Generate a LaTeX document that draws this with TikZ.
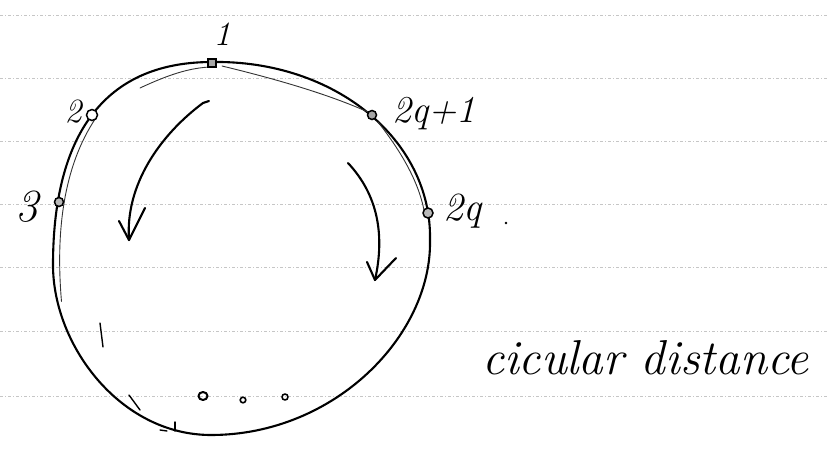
\documentclass[tikz,border=0pt]{standalone}
\usepackage{fontspec}
\begin{document}
\begin{tikzpicture}[x=1pt,y=-1pt,
  ink/.style={line width=2.1pt, line cap=round, line join=round, black},
  thin ink/.style={line width=0.9pt, line cap=round, black!80},
  rule/.style={gray!45, line width=0.7pt, dash pattern=on 3pt off 2pt on 1pt off 2pt},
  lab/.style={inner sep=0pt, font=\itshape},
  pt/.style={circle, draw, line width=1.5pt, inner sep=0pt, fill=gray!55}]
\useasboundingbox (0,0) rectangle (828,450);
\fill[white] (0,0) rectangle (828,450);
% ruled paper lines
\foreach \yy in {15,78,141,204,267,331,396}
  \draw[rule] (0,\yy) -- (828,\yy);
% the circle
\draw[ink] (212,62) .. controls (335,60) and (432,140) .. (430,240)
  .. controls (432,335) and (335,435) .. (211,435)
  .. controls (120,435) and (53,345) .. (53,265)
  .. controls (53,155) and (90,62) .. (212,62) -- cycle;
% doubled strokes of the sketch
\draw[thin ink, shift={(3.5,1.5)}] (58,300) .. controls (52,230) and (60,165) .. (92,117);
\draw[thin ink] (140,88) .. controls (170,74) and (190,68) .. (210,67);
\draw[thin ink] (222,66) .. controls (280,80) and (330,95) .. (368,112);
\draw[thin ink] (378,122) .. controls (400,150) and (418,180) .. (424,210);
% marked points
\node[pt, minimum size=8pt, rectangle, fill=gray!70] (p1) at (212,63) {};
\node[pt, minimum size=11pt, fill=white] (p2) at (92,115) {};
\node[pt, minimum size=9pt] (p3) at (59,202) {};
\node[pt, minimum size=9pt, fill=gray!70] (p4) at (372,115) {};
\node[pt, minimum size=10pt] (p5) at (428,213) {};
% labels
\node[lab, font=\fontsize{34}{40}\selectfont\itshape, anchor=base] (l1) at (222,45) {1};
\node[lab, font=\fontsize{34}{40}\selectfont\itshape, anchor=base] (l2) at (73,122) {2};
\node[lab, font=\fontsize{46}{52}\selectfont\itshape, anchor=base] (l3) at (27,221) {3};
\node[lab, font=\fontsize{38}{44}\selectfont\itshape, anchor=base west] (l4) at (392,122) {2q+1};
\node[lab, font=\fontsize{40}{46}\selectfont\itshape, anchor=base west] (l5) at (443,220) {2q};
\fill (506,223) circle (1.4);
\node[lab, font=\fontsize{49}{55}\selectfont\itshape, anchor=base west] (l6) at (482,374) {cicular distance};
% arrows
\coordinate (a1s) at (203,103);
\coordinate (a1t) at (129,240);
\draw[ink] (a1s) .. controls (160,135) and (125,185) .. (a1t);
\draw[ink] (119,221) -- (a1t) -- (145,208);
\draw[ink] (a1s) -- (209,101);
\coordinate (a2s) at (348,163);
\coordinate (a2t) at (375,280);
\draw[ink] (a2s) .. controls (378,195) and (385,235) .. (a2t);
\draw[ink] (367,262) -- (a2t) -- (396,258);
% stray ticks
\draw[ink, line width=1.4pt] (100,323) -- (103,347);
\draw[ink, line width=1.4pt] (129,395) -- (140,410);
\draw[ink, line width=1.4pt] (175,422) -- (175,431);
\draw[ink, line width=1.4pt] (160,430) -- (167,431);
% dots at the bottom
\draw[ink, line width=2pt] (203,396) ellipse (4.5 and 4);
\draw[ink, line width=1.6pt] (243,400) circle (2.8);
\draw[ink, line width=1.6pt] (285,397) circle (3);
\end{tikzpicture}
\end{document}
